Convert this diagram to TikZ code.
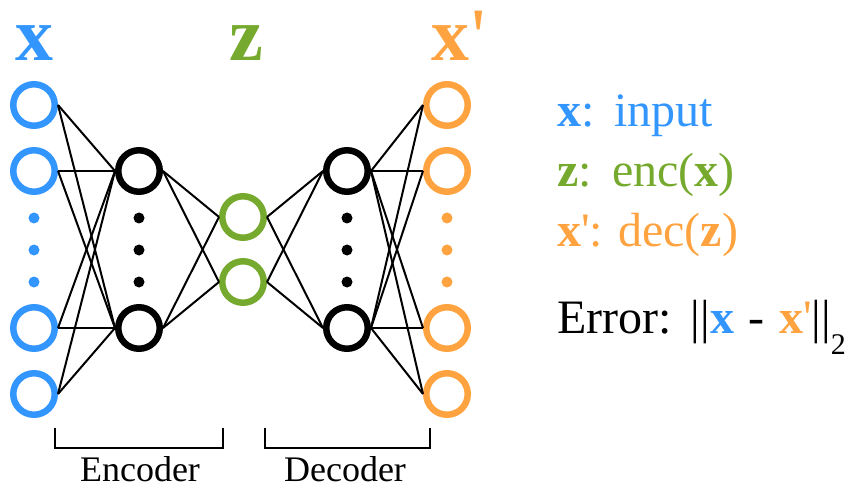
\documentclass[tikz,border=0pt]{standalone}
\usepackage{fontspec}
\setmainfont{Liberation Serif}
\definecolor{inblue}{RGB}{51,150,255}
\definecolor{zgreen}{RGB}{118,170,46}
\definecolor{outorange}{RGB}{255,163,64}
\begin{document}
\begin{tikzpicture}[x=1pt,y=-1pt,
  neuron/.style={circle,draw,line width=6.5pt,minimum size=41.5pt,inner sep=0pt},
  innode/.style={neuron,draw=inblue},
  hidnode/.style={neuron,draw=black},
  znode/.style={neuron,draw=zgreen},
  outnode/.style={neuron,draw=outorange},
  vdot/.style={circle,inner sep=0pt,minimum size=11pt},
  link/.style={line width=2pt,black},
  bracket/.style={line width=2pt,black},
  heading/.style={anchor=base,inner sep=0pt,font=\fontsize{76}{76}\selectfont\bfseries},
  legend/.style={anchor=base west,inner sep=0pt,font=\fontsize{48}{48}\selectfont},
  part/.style={anchor=base,inner sep=0pt,font=\fontsize{36}{36}\selectfont}]
  \useasboundingbox (0,0) rectangle (846,489);

  % layers
  \foreach \n/\y in {1/105,2/171,3/328,4/394} {
    \node[innode]  (in\n)  at (34,\y) {};
    \node[outnode] (out\n) at (447,\y) {};
  }
  \node[hidnode] (eh1) at (139,171) {};
  \node[hidnode] (eh2) at (139,328) {};
  \node[znode]   (z1)  at (243,217) {};
  \node[znode]   (z2)  at (243,282) {};
  \node[hidnode] (dh1) at (347,171) {};
  \node[hidnode] (dh2) at (347,328) {};

  % ellipsis dots
  \foreach \y/\k in {218/a,250/b,282/c} {
    \node[vdot,fill=inblue]     (ind\k)  at (34,\y)  {};
    \node[vdot,fill=black]      (ehd\k)  at (139,\y) {};
    \node[vdot,fill=black]      (dhd\k)  at (347,\y) {};
    \node[vdot,fill=outorange]  (outd\k) at (447,\y) {};
  }

  % connections
  \foreach \i in {1,2,3,4} \foreach \h in {1,2} {
    \draw[link] (in\i.east) -- (eh\h.west);
    \draw[link] (dh\h.east) -- (out\i.west);
  }
  \foreach \h in {1,2} \foreach \k in {1,2} {
    \draw[link] (eh\h.east) -- (z\k.west);
    \draw[link] (z\k.east) -- (dh\h.west);
  }

  % headings
  \node[heading,text=inblue] (hx) at (35,61) {x};
  \node[heading,text=zgreen] (hz) at (246,61) {z};
  \node[heading,text=outorange] (hxp) at (450,61) {x};
  \node[anchor=base,inner sep=0pt,text=outorange,font=\fontsize{80}{80}\selectfont]
    (hprime) at (479,64) {\textquotesingle};

  % brackets
  \draw[bracket] (55,428) |- (223,448) -- (223,428);
  \draw[bracket] (265,428) |- (430,448) -- (430,428);
  \node[part] (enc) at (140,481) {Encoder};
  \node[part] (dec) at (345,481) {Decoder};

  % legend
  \node[legend,text=inblue] (lx) at (557,127) {\textbf{x}:};
  \node[legend,text=inblue] (lxt) at (614,127) {input};
  \node[legend,text=zgreen] (lz) at (557,187) {\textbf{z}:};
  \node[legend,text=zgreen] (lzt) at (612,187) {enc(\textbf{x})};
  \node[legend,text=outorange] (lo) at (557,247) {\textbf{x}\textquotesingle:};
  \node[legend,text=outorange] (lot) at (618,247) {dec(\textbf{z})};
  \node[legend] (err) at (557,333)
    {Error:\hspace{0.4em}||\textcolor{inblue}{\textbf{x}}\hspace{0.3em}-\hspace{0.3em}\textcolor{outorange}{\textbf{x}\textquotesingle}||\raisebox{-21pt}{\fontsize{30}{30}\selectfont 2}};
\end{tikzpicture}
\end{document}
